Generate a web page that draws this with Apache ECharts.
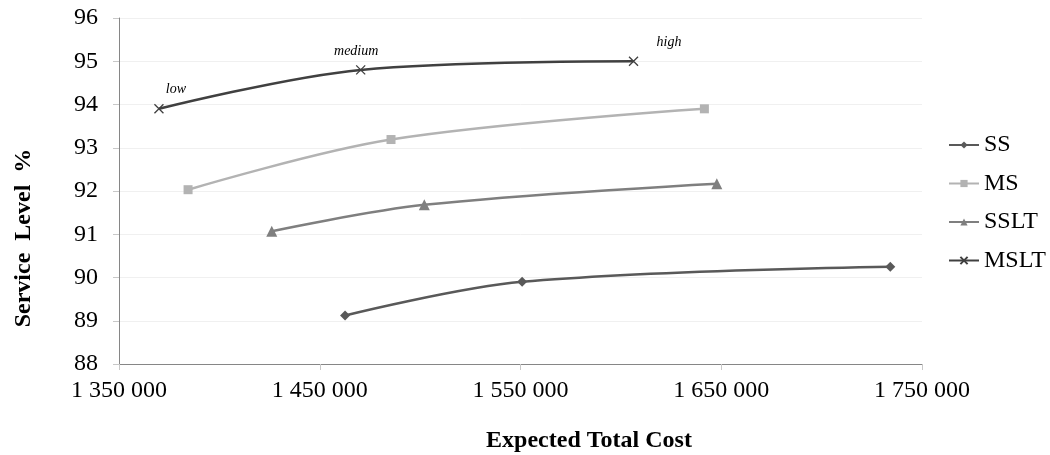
<!DOCTYPE html>
<html>
<head>
<meta charset="utf-8">
<script src="https://cdn.jsdelivr.net/npm/echarts@6/dist/echarts.min.js"></script>
<style>html,body{margin:0;padding:0;background:#fff;}#c{width:1050px;height:455px;}</style>
</head>
<body>
<div id="c"></div>
<script>
// Data (Expected Total Cost, Service Level %)
const seriesNames = ['SS', 'MS', 'SSLT', 'MSLT'];
const ssData   = [[1462600, 89.12], [1550800, 89.90], [1734200, 90.25]];
const msData   = [[1384400, 92.03], [1485500, 93.19], [1641600, 93.90]];
const ssltData = [[1426100, 91.07], [1502100, 91.68], [1647800, 92.17]];
const msltData = [[1369900, 93.90], [1470400, 94.80], [1606300, 95.00]];
const pointLabels = ['low', 'medium', 'high'];
const xTitle = 'Expected Total Cost';
const yTitle = 'Service  Level  %';
const xMin = 1350000, xMax = 1750000, xStep = 100000;
const yMin = 88, yMax = 96, yStep = 1;

const FONT = '"Liberation Serif", "Times New Roman", serif';
const colors = ['#595959', '#b3b3b3', '#7f7f7f', '#404040'];
const labelOffsets = [[17, -20], [-4.5, -19], [35.5, -19]];

function fmt(v) {
  return String(v).replace(/\B(?=(\d{3})+(?!\d))/g, ' ');
}

const chart = echarts.init(document.getElementById('c'), null, {renderer: 'canvas'});
const crossPath = 'path://M0,0L10,10M10,0L0,10';

function mk(name, data, color, symbol, size, extra) {
  return Object.assign({
    name: name,
    type: 'line',
    data: data,
    smooth: 0.35,
    symbol: symbol,
    symbolSize: size,
    showAllSymbol: true,
    color: color,
    lineStyle: {color: color, width: 2.5},
    itemStyle: {color: color},
    emphasis: {disabled: true},
    z: 3
  }, extra || {});
}

chart.setOption({
  animation: false,
  backgroundColor: '#fff',
  textStyle: {fontFamily: FONT},
  grid: {left: 119, right: 128, top: 18, bottom: 91, containLabel: false},
  legend: {
    orient: 'vertical',
    left: 943,
    top: 128,
    itemGap: 14.5,
    itemWidth: 30,
    itemHeight: 9,
    data: seriesNames,
    textStyle: {fontFamily: FONT, fontSize: 24, color: '#000'}
  },
  graphic: [
    {
      type: 'text', x: 589, y: 441, z: 10,
      style: {text: xTitle, font: 'bold 24px ' + FONT, fill: '#000', align: 'center', verticalAlign: 'middle'}
    },
    {
      type: 'text', x: 23.5, y: 238, rotation: Math.PI / 2, z: 10,
      style: {text: yTitle, font: 'bold 24px ' + FONT, fill: '#000', align: 'center', verticalAlign: 'middle'}
    }
  ],
  xAxis: {
    type: 'value',
    min: xMin, max: xMax, interval: xStep,
    axisLine: {show: true, onZero: false, lineStyle: {color: '#868686', width: 1}},
    axisTick: {show: true, length: 6, lineStyle: {color: '#c8c8c8'}},
    axisLabel: {fontFamily: FONT, fontSize: 24, color: '#000', margin: 15, formatter: fmt},
    splitLine: {show: false}
  },
  yAxis: {
    type: 'value',
    min: yMin, max: yMax, interval: yStep,
    axisLine: {show: true, lineStyle: {color: '#868686', width: 1}},
    axisTick: {show: true, length: 6, lineStyle: {color: '#c8c8c8'}},
    axisLabel: {fontFamily: FONT, fontSize: 24, color: '#000', margin: 21},
    splitLine: {show: true, lineStyle: {color: '#f0f0f0', width: 1}}
  },
  series: [
    mk('SS', ssData, colors[0], 'diamond', 10),
    mk('MS', msData, colors[1], 'rect', 9),
    mk('SSLT', ssltData, colors[2], 'triangle', 11),
    mk('MSLT', msltData.map((d, i) => ({
      value: d,
      label: {
        show: true,
        formatter: pointLabels[i],
        position: 'inside',
        align: 'center',
        verticalAlign: 'middle',
        offset: labelOffsets[i],
        fontFamily: FONT,
        fontStyle: 'italic',
        fontSize: 14,
        color: '#000'
      }
    })), colors[3], crossPath, 9, {
      itemStyle: {color: 'rgba(0,0,0,0)', borderColor: colors[3], borderWidth: 1.3}
    })
  ]
});
</script>
</body>
</html>
